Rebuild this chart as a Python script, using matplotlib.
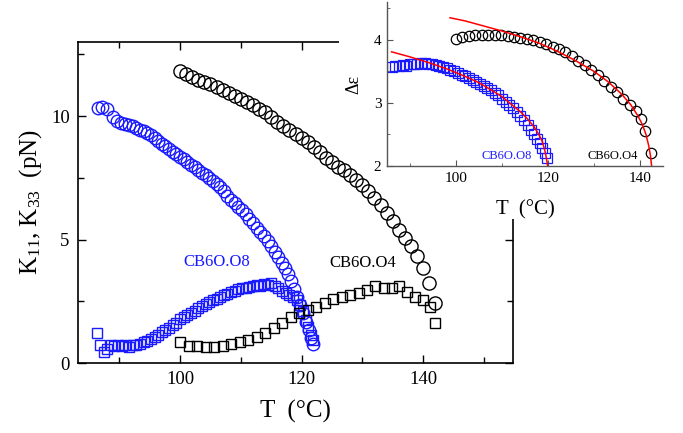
import matplotlib
matplotlib.use("Agg")
import matplotlib.pyplot as plt
from matplotlib.ticker import MultipleLocator
from matplotlib.patches import Rectangle

plt.rcParams['font.family'] = ['Liberation Serif', 'DejaVu Serif']
plt.rcParams['mathtext.fontset'] = 'custom'
plt.rcParams['mathtext.rm'] = 'Liberation Serif'
plt.rcParams['mathtext.it'] = 'Liberation Serif:italic'

# ---------------- main panel data ----------------
# CB6O.O4, K11 (black circles)
t_o4_k11 = [100, 101, 102, 103, 104, 105, 106, 107, 108, 109, 110, 111, 112, 113, 114,
            115, 116, 117, 118, 119, 120, 121, 122, 123, 124, 125, 126, 127, 128, 129,
            130, 131, 132, 133, 134, 135, 136, 137, 138, 139, 140, 141, 142]
k_o4_k11 = [11.83, 11.72, 11.60, 11.48, 11.37, 11.28, 11.18, 11.07, 10.95, 10.82, 10.68,
            10.56, 10.45, 10.30, 10.15, 9.95, 9.75, 9.60, 9.45, 9.27, 9.10, 8.95, 8.75,
            8.55, 8.32, 8.12, 7.95, 7.82, 7.62, 7.42, 7.22, 6.98, 6.70, 6.38, 6.06, 5.75,
            5.40, 5.08, 4.75, 4.35, 3.85, 3.25, 2.42]

# CB6O.O4, K33 (black squares)
t_o4_k33 = [100.0, 101.4, 102.8, 104.2, 105.6, 107.0, 108.4, 109.8, 111.2, 112.6, 114.0,
            115.4, 116.8, 118.2, 119.6, 121.0, 122.4, 123.8, 125.2, 126.6, 128.0, 129.4,
            130.8, 132.1, 133.5, 134.9, 136.0, 137.3, 138.7, 140.0, 141.2, 142.0]
k_o4_k33 = [0.86, 0.70, 0.69, 0.64, 0.66, 0.70, 0.77, 0.85, 0.93, 1.05, 1.22, 1.42, 1.64,
            1.85, 2.02, 2.14, 2.28, 2.42, 2.58, 2.66, 2.74, 2.82, 2.95, 3.12, 3.02, 3.02,
            3.12, 2.89, 2.68, 2.55, 2.28, 1.61]

# CB6O.O8, K11 (blue circles)
t_o8_k11 = [86.5, 87.2, 87.9, 88.9, 89.6, 90.3, 90.9, 91.6, 92.2, 92.8, 93.4, 94.0, 94.6,
            95.2, 95.8, 96.4, 97.0, 97.6, 98.2, 98.8, 99.4, 100.0, 100.6, 101.2, 101.8,
            102.4, 103.0, 103.6, 104.2, 104.8, 105.4, 106.0, 106.6, 107.2, 107.8, 108.4,
            109.0, 109.6, 110.2, 110.8, 111.4, 112.0, 112.6, 113.2, 113.8, 114.4, 115.0,
            115.6, 116.2, 116.8, 117.3, 117.8, 118.3, 118.8, 119.3, 119.8, 120.3, 120.8,
            121.2, 121.6, 121.9]
k_o8_k11 = [10.33, 10.35, 10.30, 9.95, 9.82, 9.72, 9.68, 9.65, 9.58, 9.52, 9.44, 9.38,
            9.30, 9.22, 9.12, 8.98, 8.88, 8.78, 8.66, 8.55, 8.45, 8.35, 8.25, 8.14, 8.03,
            7.92, 7.80, 7.70, 7.60, 7.50, 7.38, 7.26, 7.14, 6.96, 6.78, 6.62, 6.48, 6.33,
            6.18, 6.02, 5.85, 5.66, 5.47, 5.30, 5.14, 4.96, 4.72, 4.50, 4.28, 4.05, 3.83,
            3.60, 3.32, 2.98, 2.66, 2.35, 2.02, 1.66, 1.32, 1.00, 0.75]

# CB6O.O8, K33 (blue squares)
t_o8_k33 = [86.4, 86.8, 87.4, 88.0, 88.6, 89.2, 89.8, 90.4, 91.0, 91.6, 92.2, 92.8, 93.4,
            94.0, 94.6, 95.2, 95.8, 96.4, 97.0, 97.6, 98.2, 98.8, 99.4, 100.0, 100.6,
            101.2, 101.8, 102.4, 103.0, 103.6, 104.2, 104.8, 105.4, 106.0, 106.6, 107.2,
            107.8, 108.4, 109.0, 109.6, 110.2, 110.8, 111.4, 112.0, 112.6, 113.2, 113.8,
            114.4, 115.0, 115.6, 116.2, 116.8, 117.4, 118.0, 118.6, 119.2, 119.7, 120.2,
            120.7, 121.1, 121.5, 121.9]
k_o8_k33 = [1.23, 0.72, 0.45, 0.55, 0.72, 0.70, 0.74, 0.68, 0.72, 0.66, 0.72, 0.74, 0.78,
            0.84, 0.90, 0.96, 1.05, 1.14, 1.24, 1.34, 1.42, 1.52, 1.64, 1.78, 1.86, 1.96,
            2.04, 2.12, 2.22, 2.30, 2.38, 2.46, 2.54, 2.60, 2.68, 2.74, 2.80, 2.86, 2.92,
            2.98, 3.02, 3.05, 3.08, 3.10, 3.14, 3.12, 3.18, 3.16, 3.22, 3.10, 3.02, 2.92,
            2.84, 2.76, 2.66, 2.55, 2.35, 2.10, 1.75, 1.45, 1.15, 0.92]

# ---------------- inset data ----------------
t_o4_de = [100.0, 101.4, 102.8, 104.2, 105.6, 107.0, 108.4, 109.8, 111.2, 112.6, 114.0,
           115.4, 116.8, 118.2, 119.6, 121.0, 122.4, 123.8, 125.2, 126.6, 128.0, 129.4,
           130.8, 132.2, 133.6, 135.0, 136.4, 137.8, 139.2, 140.3, 141.1, 142.3]
de_o4 = [4.01, 4.04, 4.06, 4.07, 4.08, 4.08, 4.08, 4.07, 4.06, 4.05, 4.03, 4.01, 3.99,
         3.96, 3.93, 3.89, 3.85, 3.80, 3.74, 3.67, 3.60, 3.52, 3.44, 3.35, 3.25, 3.17,
         3.07, 2.97, 2.87, 2.74, 2.56, 2.21]

t_o8_de = [86.0, 86.8, 87.6, 88.4, 89.2, 90.0, 90.8, 91.6, 92.4, 93.2, 94.0, 94.8, 95.6,
           96.4, 97.2, 98.0, 98.8, 99.6, 100.4, 101.2, 102.0, 102.8, 103.6, 104.4, 105.2,
           106.0, 106.8, 107.6, 108.4, 109.2, 110.0, 110.8, 111.6, 112.4, 113.2, 114.0,
           114.8, 115.6, 116.4, 117.0, 117.6, 118.2, 118.8, 119.3, 119.7]
de_o8 = [3.57, 3.58, 3.58, 3.60, 3.59, 3.61, 3.62, 3.62, 3.63, 3.63, 3.62, 3.61, 3.60,
         3.58, 3.57, 3.55, 3.52, 3.50, 3.47, 3.45, 3.42, 3.39, 3.36, 3.33, 3.30, 3.27,
         3.23, 3.20, 3.16, 3.12, 3.07, 3.02, 2.97, 2.92, 2.86, 2.80, 2.73, 2.65, 2.57,
         2.50, 2.43, 2.36, 2.28, 2.20, 2.12]

# red fit curves
t_fit_o4 = [98.7, 102, 106, 110, 114, 118, 122, 126, 130, 133, 136, 138, 139.5, 140.5,
            141.3, 141.9, 142.3, 142.6]
fit_o4 = [4.35, 4.30, 4.22, 4.14, 4.05, 3.95, 3.82, 3.67, 3.50, 3.34, 3.14, 2.97, 2.80,
          2.66, 2.50, 2.32, 2.15, 1.95]
t_fit_o8 = [86, 90, 94, 98, 102, 105, 108, 110, 112, 114, 115.5, 117, 118, 118.8, 119.4,
            119.8, 120]
fit_o8 = [3.81, 3.73, 3.64, 3.54, 3.42, 3.32, 3.19, 3.10, 2.98, 2.86, 2.75, 2.62, 2.50,
          2.38, 2.22, 2.06, 1.95]

BLUE = '#1a1aff'
XLIM = (83.2, 154.8)
YLIM = (0, 13)

fig = plt.figure(figsize=(6.83, 4.33), dpi=100)
main_rect = [78/683, 1-363/433, (513-78)/683, (363-42)/433]

# frame of the main panel (partly hidden by the inset block)
ax = fig.add_axes(main_rect)
ax.set_zorder(0)
ax.set_xlim(*XLIM)
ax.set_ylim(*YLIM)
ax.xaxis.set_major_locator(MultipleLocator(20))
ax.xaxis.set_minor_locator(MultipleLocator(10))
ax.yaxis.set_major_locator(MultipleLocator(5))
ax.yaxis.set_minor_locator(MultipleLocator(2.5))
ax.tick_params(which='both', direction='in', top=True, right=True, width=1.0,
               labelsize=13.5, pad=6)
ax.tick_params(which='major', length=6)
ax.tick_params(which='minor', length=4)
for s in ax.spines.values():
    s.set_linewidth(1.2)
ax.set_xlabel('T  (°C)', fontsize=18, labelpad=8)
ax.set_ylabel(r'K$_{\mathrm{11}}$, K$_{\mathrm{33}}$  (pN)', fontsize=18, labelpad=5)

# white block on which the inset sits
fig.patches.append(Rectangle((339/683, 1-219/433), 1-339/683, 219/433,
                             transform=fig.transFigure, facecolor='white',
                             edgecolor='none', zorder=1))

# data layer of the main panel (above the white block)
axd = fig.add_axes(main_rect, sharex=ax, sharey=ax)
axd.set_zorder(1.5)
axd.patch.set_visible(False)
axd.axis('off')
axd.plot(t_o8_k33, k_o8_k33, 's', ms=7.5, mfc='none', mec=BLUE, mew=1.0)
axd.plot(t_o8_k11, k_o8_k11, 'o', ms=9, mfc='none', mec=BLUE, mew=1.0)
axd.plot(t_o4_k33, k_o4_k33, 's', ms=7.5, mfc='none', mec='black', mew=1.0)
axd.plot(t_o4_k11, k_o4_k11, 'o', ms=9.5, mfc='none', mec='black', mew=1.0)
axd.set_xlim(*XLIM)
axd.set_ylim(*YLIM)
axd.text(106.1, 4.1, 'CB6O.O8', color=BLUE, fontsize=12, ha='center', va='center')
axd.text(130.0, 4.05, 'CB6O.O4', color='black', fontsize=12, ha='center', va='center')

# inset
ins = fig.add_axes([387/683, 1-166/433, (663-387)/683, 164/433])
ins.set_zorder(2)
ins.patch.set_alpha(0)
ins.plot(t_o8_de, de_o8, 's', ms=6.5, mfc='none', mec=BLUE, mew=0.9)
ins.plot(t_o4_de, de_o4, 'o', ms=7.5, mfc='none', mec='black', mew=0.9)
ins.plot(t_fit_o8, fit_o8, '-', color='red', lw=1.1)
ins.plot(t_fit_o4, fit_o4, '-', color='red', lw=1.1)
ins.set_xlim(85, 145)
ins.set_ylim(2, 4.6)
ins.spines['top'].set_visible(False)
ins.spines['right'].set_visible(False)
for s in ('left', 'bottom'):
    ins.spines[s].set_color('#555555')
    ins.spines[s].set_linewidth(1.0)
ins.xaxis.set_major_locator(MultipleLocator(20))
ins.xaxis.set_minor_locator(MultipleLocator(10))
ins.yaxis.set_major_locator(MultipleLocator(1))
ins.yaxis.set_minor_locator(MultipleLocator(0.5))
ins.tick_params(which='both', direction='in', labelsize=11, pad=4, color='#555555')
ins.tick_params(which='major', length=4)
ins.tick_params(which='minor', length=2.5)
ins.set_xlabel('T  (°C)', fontsize=15, labelpad=11)
ins.set_ylabel('Δε', fontsize=13, labelpad=8)
ins.text(111.1, 2.16, 'CB6O.O8', color=BLUE, fontsize=9, ha='center', va='center')
ins.text(134.1, 2.16, 'CB6O.O4', color='black', fontsize=9, ha='center', va='center')

fig.savefig('out.png', dpi=100)
